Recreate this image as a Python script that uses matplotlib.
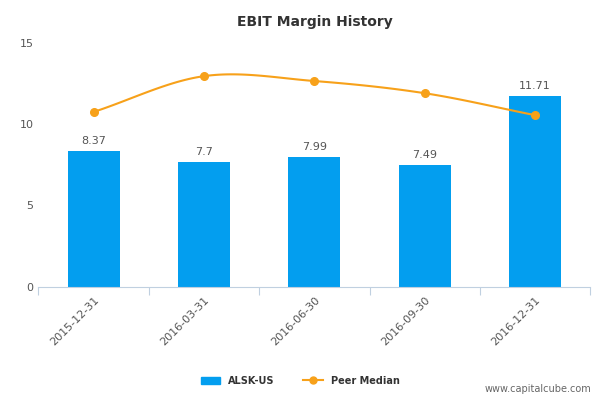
import matplotlib
matplotlib.use("Agg")
import matplotlib.pyplot as plt
import numpy as np

categories = ["2015-12-31", "2016-03-31", "2016-06-30", "2016-09-30", "2016-12-31"]
alsk = [8.37, 7.7, 7.99, 7.49, 11.71]
alsk_labels = ["8.37", "7.7", "7.99", "7.49", "11.71"]
peer = [10.75, 12.95, 12.65, 11.9, 10.55]

fig = plt.figure(figsize=(6, 4), dpi=100)
ax = fig.add_axes([0.064, 0.283, 0.92, 0.61])
x = np.arange(len(categories))
ax.bar(x, alsk, width=0.47, color="#039eef", zorder=2)
for xi, v, t in zip(x, alsk, alsk_labels):
    ax.text(xi, v + 0.3, t, ha="center", va="bottom", fontsize=8, color="#555555")

# smooth curve (Catmull-Rom) through peer points
px = np.array(x, float); py = np.array(peer, float)
P = np.vstack([px, py]).T
P = np.vstack([2*P[0]-P[1], P, 2*P[-1]-P[-2]])
cx, cy = [], []
for i in range(1, len(P)-2):
    p0, p1, p2, p3 = P[i-1], P[i], P[i+1], P[i+2]
    for t in np.linspace(0, 1, 30):
        pt = 0.5*((2*p1) + (-p0+p2)*t + (2*p0-5*p1+4*p2-p3)*t**2 + (-p0+3*p1-3*p2+p3)*t**3)
        cx.append(pt[0]); cy.append(pt[1])
ax.plot(cx, cy, color="#f7a11a", lw=1.5, zorder=3)
ax.plot(px, py, "o", color="#f7a11a", ms=5.5, zorder=4)

ax.set_xlim(-0.5, 4.5)
ax.set_ylim(0, 15)
ax.set_yticks([0, 5, 10, 15])
ax.set_xticks(np.arange(-0.5, 5, 1), minor=False)
ax.set_xticklabels([])
ax.set_xticks(x, minor=True)
ax.set_xticklabels(categories, minor=True, rotation=45, ha="right", rotation_mode="anchor", fontsize=8, color="#555555")
ax.tick_params(axis="x", which="minor", length=0, pad=6)
ax.tick_params(axis="x", which="major", length=6, color="#c0d0e0")
ax.tick_params(axis="y", length=0, labelsize=8, labelcolor="#555555")
for s in ["top", "right", "left"]:
    ax.spines[s].set_visible(False)
ax.spines["bottom"].set_color("#c0d0e0")
ax.set_title("EBIT Margin History", fontsize=10, fontweight="bold", color="#333333", pad=12)

from matplotlib.patches import Patch
from matplotlib.lines import Line2D
handles = [Patch(color="#039eef", label="ALSK-US"),
           Line2D([0], [0], color="#f7a11a", marker="o", ms=5, lw=1.5, label="Peer Median")]
fig.legend(handles=handles, loc="center", bbox_to_anchor=(0.5, 0.048), ncol=2, frameon=False,
           prop={"size": 7, "weight": "bold"}, labelcolor="#333333", columnspacing=3)
fig.text(0.985, 0.02, "www.capitalcube.com", ha="right", fontsize=7, color="#666666")
fig.savefig("out.png")
